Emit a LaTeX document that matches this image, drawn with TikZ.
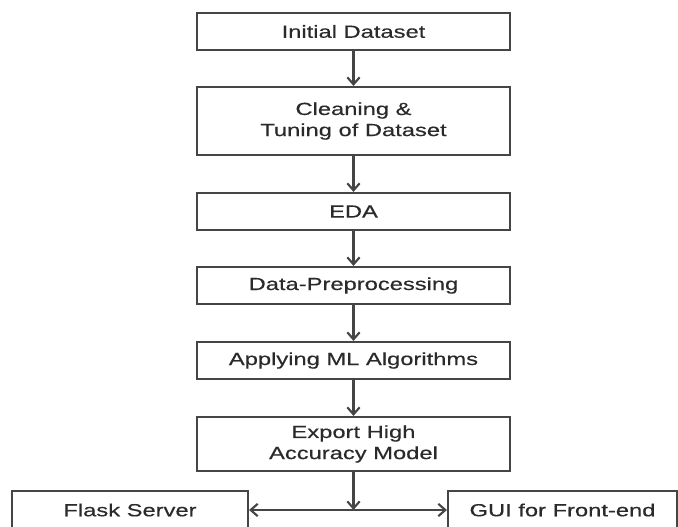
\documentclass[tikz,border=0pt]{standalone}
\usepackage{fontspec}
\setmainfont{Liberation Sans}[FakeStretch=1.35,FakeBold=0.4]
\usetikzlibrary{arrows.meta}
\definecolor{boxline}{HTML}{454545}
\definecolor{boxtext}{HTML}{2A2A2A}

\begin{document}
\begin{tikzpicture}[
  flowbox/.style={draw=boxline,line width=1.2pt,minimum width=6.26cm,minimum height=0.74cm,
    inner sep=0pt,align=center,text=boxtext,font=\fontsize{10}{12}\selectfont},
  flow/.style={draw=boxline,line width=1.2pt,-{Straight Barb[length=4pt,width=7pt]}},
  bothflow/.style={draw=boxline,line width=1.2pt,{Straight Barb[length=4pt,width=7pt]}-{Straight Barb[length=4pt,width=7pt]}}
]
\useasboundingbox (0,0) rectangle (13.56,10.54);

\node[flowbox] (init) at (7.07,9.91) {Initial Dataset};
\node[flowbox,minimum height=1.36cm] (clean) at (7.07,8.12) {Cleaning \&\\Tuning of Dataset};
\node[flowbox] (eda) at (7.07,6.31) {EDA};
\node[flowbox] (prep) at (7.07,4.83) {Data-Preprocessing};
\node[flowbox] (algo) at (7.07,3.33) {Applying ML Algorithms};
\node[flowbox,minimum height=1.08cm] (export) at (7.07,1.66) {Export High\\Accuracy Model};

\node[flowbox,minimum width=4.72cm,minimum height=0.76cm] (flask) at (2.6,0.34) {Flask Server};
\node[flowbox,minimum width=4.58cm,minimum height=0.76cm] (gui) at (11.25,0.34) {GUI for Front-end};

\draw[flow] (init) -- (clean);
\draw[flow] (clean) -- (eda);
\draw[flow] (eda) -- (prep);
\draw[flow] (prep) -- (algo);
\draw[flow] (algo) -- (export);

\coordinate (split) at (export.south |- flask.east);
\draw[flow] (export) -- (split);
\draw[bothflow] (flask) -- (gui);

\end{tikzpicture}
\end{document}
